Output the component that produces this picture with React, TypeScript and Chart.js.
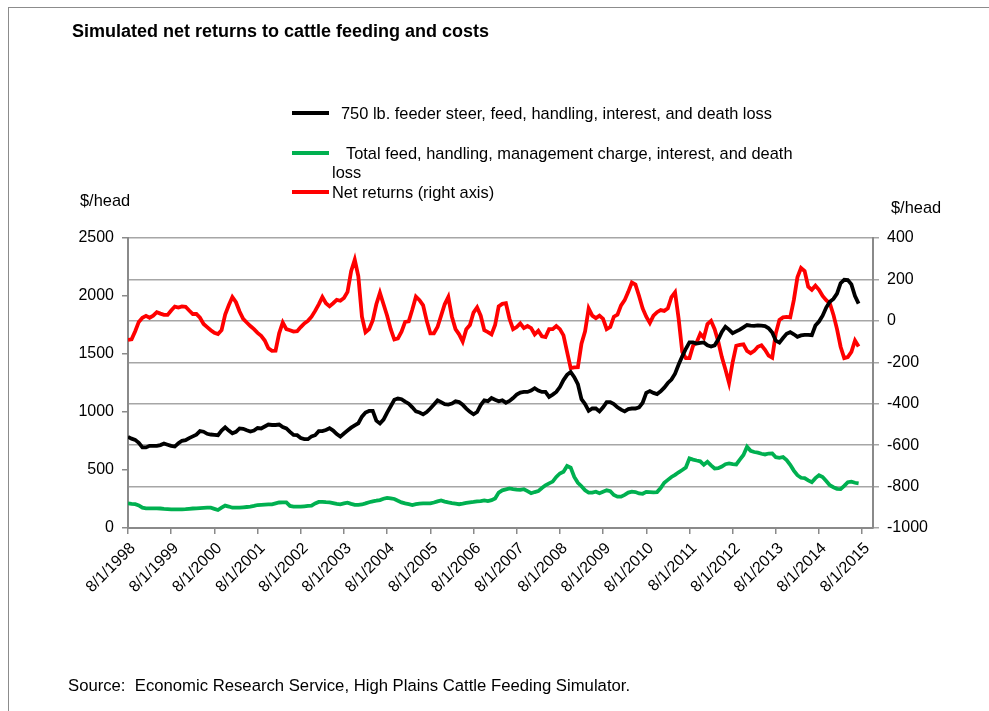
import React, { useEffect, useRef } from "react";
import { Chart, registerables } from "chart.js";

Chart.register(...registerables);

// x-axis tick labels (one per year, every 12 months from 8/1/1998)
const YEAR_LABELS = [
  "8/1/1998", "8/1/1999", "8/1/2000", "8/1/2001", "8/1/2002", "8/1/2003",
  "8/1/2004", "8/1/2005", "8/1/2006", "8/1/2007", "8/1/2008", "8/1/2009",
  "8/1/2010", "8/1/2011", "8/1/2012", "8/1/2013", "8/1/2014", "8/1/2015",
];

// Monthly values, Aug 1998 onwards (index = months since 8/1/1998)
const FEEDER_STEER_COST = [
  786, 770, 760, 735, 695, 695, 708, 708, 708, 715, 728, 718,
  708, 702, 730, 752, 757, 775, 790, 805, 835, 830, 812, 806,
  803, 800, 840, 868, 840, 816, 829, 858, 855, 842, 832, 840,
  862, 858, 875, 892, 888, 888, 892, 870, 858, 828, 802, 800,
  775, 766, 766, 790, 800, 835, 835, 845, 860, 840, 810, 788,
  815, 840, 865, 885, 903, 960, 995, 1009, 1009, 925, 901, 935,
  995, 1050, 1105, 1116, 1110, 1090, 1072, 1040, 1005, 996, 980, 1000,
  1030, 1065, 1100, 1085, 1068, 1064, 1073, 1092, 1085, 1062, 1030, 1001,
  980, 1000, 1060, 1100, 1093, 1120, 1105, 1092, 1100, 1080, 1095, 1120,
  1150, 1168, 1173, 1173, 1185, 1205, 1185, 1173, 1173, 1130, 1150, 1173,
  1215, 1275, 1320, 1345, 1300, 1240, 1110, 1068, 1010, 1030, 1030, 1005,
  1040, 1085, 1085, 1068, 1040, 1020, 1005, 1025, 1030, 1030, 1040, 1080,
  1165, 1180, 1165, 1155, 1178, 1210, 1250, 1280, 1330, 1410, 1480, 1545,
  1600, 1600, 1590, 1595, 1600, 1575, 1565, 1575, 1625, 1690, 1735, 1710,
  1680, 1695, 1710, 1730, 1750, 1745, 1742, 1746, 1745, 1740, 1722, 1685,
  1615, 1598, 1638, 1675, 1688, 1670, 1648, 1660, 1665, 1665, 1662, 1745,
  1780, 1830, 1900, 1950, 1975, 2020, 2110, 2140, 2137, 2100, 2000, 1934,
];

const FEED_COST = [
  212, 208, 205, 195, 175, 170, 170, 170, 170, 168, 165, 163,
  161, 161, 161, 161, 162, 165, 168, 170, 172, 174, 175, 175,
  165, 155, 175, 193, 185, 175, 175, 175, 178, 181, 184, 190,
  198, 200, 202, 203, 204, 212, 220, 221, 221, 190, 184, 184,
  184, 187, 190, 193, 212, 225, 226, 223, 221, 215, 208, 204,
  212, 218, 208, 199, 200, 203, 212, 222, 230, 235, 241, 252,
  260, 256, 250, 235, 221, 212, 205, 198, 205, 210, 212, 212,
  212, 220, 230, 238, 228, 221, 215, 210, 205, 210, 216, 221,
  225, 230, 232, 238, 232, 240, 255, 305, 325, 333, 341, 335,
  330, 328, 334, 318, 300, 310, 318, 345, 368, 385, 400, 440,
  470, 485, 535, 520, 440, 390, 360, 325, 305, 305, 313, 300,
  313, 325, 318, 285, 270, 270, 285, 305, 313, 310, 298, 295,
  312, 310, 308, 310, 345, 390, 415, 440, 458, 480, 500, 522,
  600, 590, 582, 575, 545, 570, 540, 513, 516, 530, 550, 556,
  550, 548, 590, 630, 700, 665, 655, 650, 640, 634, 642, 643,
  610, 605, 612, 585, 545, 495, 455, 433, 430, 410, 395, 430,
  455, 440, 405, 368, 352, 338, 335, 364, 395, 400, 390, 385,
];

const NET_RETURNS = [
  -92, -89, -50, -5, 15, 24, 15, 25, 42, 35, 29, 29,
  50, 69, 64, 70, 68, 50, 33, 33, 15, -15, -30, -45,
  -58, -64, -45, 30, 75, 115, 90, 45, 10, -8, -25, -40,
  -58, -72, -95, -132, -145, -144, -60, -8, -40, -45, -52, -50,
  -30, -12, 0, 20, 48, 80, 115, 85, 70, 85, 101, 97,
  110, 140, 240, 295, 215, 20, -55, -40, 2, 80, 135, 80,
  25, -40, -90, -85, -52, -5, -2, 55, 117, 100, 75, 0,
  -60, -60, -30, 25, 80, 115, 20, -40, -65, -100, -40, -20,
  40, 65, 25, -45, -54, -65, -20, 70, 82, 85, 10, -40,
  -30, -12, -35, -25, -35, -65, -48, -75, -78, -40, -40, -25,
  -40, -70, -150, -228, -225, -224, -110, -50, 60, 25, 13, 25,
  10, -40, -30, 20, 30, 75, 100, 140, 185, 175, 120, 60,
  20, -10, 25, 42, 52, 48, 60, 115, 138, 10, -150, -180,
  -180, -120, -104, -62, -82, -15, 0, -40, -100, -175, -235, -300,
  -200, -120, -116, -113, -145, -156, -145, -125, -118, -140, -168, -178,
  -60, 5, 17, 19, 17, 100, 210, 255, 240, 165, 150, 170,
  150, 120, 100, 85, 30, -40, -125, -180, -175, -150, -95, -124,
];

const LEFT_TICKS = [0, 500, 1000, 1500, 2000, 2500];
const RIGHT_TICKS = [-1000, -800, -600, -400, -200, 0, 200, 400];

const X_MAX_MONTH = 207;
const FONT = '"Liberation Sans", Arial, sans-serif';
const AXIS_GRAY = "#8a8a8a";
const GRID_GRAY = "#a6a6a6";

export default function App() {
  const ref = useRef<HTMLCanvasElement | null>(null);

  useEffect(() => {
    if (!ref.current) return;
    const toXY = (arr: number[]) => arr.map((v, i) => ({ x: i, y: v }));
    const tickFont = { family: FONT, size: 16 };
    const chart = new Chart(ref.current, {
      type: "line",
      data: {
        datasets: [
          {
            label: "750 lb. feeder steer",
            data: toXY(FEEDER_STEER_COST),
            borderColor: "#000000",
            borderWidth: 3.8,
            pointRadius: 0,
            yAxisID: "y",
            tension: 0,
          },
          {
            label: "Total feed",
            data: toXY(FEED_COST),
            borderColor: "#00b050",
            borderWidth: 3.8,
            pointRadius: 0,
            yAxisID: "y",
            tension: 0,
          },
          {
            label: "Net returns",
            data: toXY(NET_RETURNS),
            borderColor: "#ff0000",
            borderWidth: 3.8,
            pointRadius: 0,
            yAxisID: "y1",
            tension: 0,
          },
        ],
      },
      options: {
        animation: false,
        responsive: false,
        maintainAspectRatio: false,
        events: [],
        layout: { padding: { left: 0, top: 238, right: 56, bottom: 83 } },
        plugins: { legend: { display: false }, tooltip: { enabled: false } },
        scales: {
          x: {
            type: "linear",
            min: 0,
            max: X_MAX_MONTH,
            afterBuildTicks: (scale: any) => {
              scale.ticks = YEAR_LABELS.map((_, i) => ({ value: i * 12 }));
            },
            afterFit: (scale: any) => {
              scale.height = 100;
            },
            ticks: {
              autoSkip: false,
              maxRotation: 45,
              minRotation: 45,
              padding: 5,
              labelOffset: 5,
              color: "#000",
              font: tickFont,
              callback: (v: any) => YEAR_LABELS[Math.round(Number(v) / 12)],
            },
            grid: {
              drawOnChartArea: false,
              drawTicks: true,
              tickLength: 6,
              color: AXIS_GRAY,
              lineWidth: 1.5,
            },
            border: { display: true, color: AXIS_GRAY, width: 2 },
          },
          y: {
            position: "left",
            min: 0,
            max: 2500,
            afterBuildTicks: (scale: any) => {
              scale.ticks = LEFT_TICKS.map((v) => ({ value: v }));
            },
            afterFit: (scale: any) => {
              scale.width = 128;
            },
            ticks: {
              color: "#000",
              font: tickFont,
              padding: 8,
              callback: (v: any) => String(v),
            },
            grid: {
              drawOnChartArea: false,
              drawTicks: true,
              tickLength: 6,
              color: AXIS_GRAY,
              lineWidth: 1.5,
            },
            border: { display: true, color: AXIS_GRAY, width: 2 },
          },
          y1: {
            position: "right",
            min: -1000,
            max: 400,
            afterBuildTicks: (scale: any) => {
              scale.ticks = RIGHT_TICKS.map((v) => ({ value: v }));
            },
            afterFit: (scale: any) => {
              scale.width = 60;
            },
            ticks: {
              color: "#000",
              font: tickFont,
              padding: 8,
              callback: (v: any) => String(v),
            },
            grid: {
              drawOnChartArea: true,
              drawTicks: true,
              tickLength: 6,
              color: GRID_GRAY,
              lineWidth: 1.5,
            },
            border: { display: true, color: AXIS_GRAY, width: 2 },
          },
        },
      },
    });
    return () => chart.destroy();
  }, []);

  const text = (
    left: number,
    top: number,
    size: number,
    bold = false
  ): React.CSSProperties => ({
    position: "absolute",
    left,
    top,
    fontFamily: FONT,
    fontSize: size,
    lineHeight: 1,
    fontWeight: bold ? "bold" : "normal",
    whiteSpace: "pre",
    color: "#000",
  });

  const legendLine = (color: string, top: number): React.CSSProperties => ({
    position: "absolute",
    left: 292,
    top: top - 2,
    width: 37,
    height: 4,
    background: color,
  });

  return (
    <div
      style={{
        position: "absolute",
        left: 0,
        top: 0,
        width: 989,
        height: 711,
        overflow: "hidden",
        background: "#fff",
      }}
    >
      <div
        style={{
          position: "absolute",
          left: 8,
          top: 7,
          width: 1000,
          height: 720,
          borderLeft: "1.5px solid #8c8c8c",
          borderTop: "1.5px solid #8c8c8c",
        }}
      />
      <canvas
        ref={ref}
        width={989}
        height={711}
        style={{ position: "absolute", left: 0, top: 0, width: 989, height: 711 }}
      />
      <div style={text(72, 22, 18, true)}>
        Simulated net returns to cattle feeding and costs
      </div>
      <div style={legendLine("#000000", 113)} />
      <div style={text(341, 105, 16.4)}>
        750 lb. feeder steer, feed, handling, interest, and death loss
      </div>
      <div style={legendLine("#00b050", 153)} />
      <div style={text(346, 145, 16.4)}>
        Total feed, handling, management charge, interest, and death
      </div>
      <div style={text(332, 163.5, 16.4)}>loss</div>
      <div style={legendLine("#ff0000", 192)} />
      <div style={text(332, 184, 16.4)}>Net returns (right axis)</div>
      <div style={text(80, 192, 16.4)}>$/head</div>
      <div style={text(891, 198.5, 16.4)}>$/head</div>
      <div style={text(68, 677.5, 16.7)}>
        Source:  Economic Research Service, High Plains Cattle Feeding Simulator.
      </div>
    </div>
  );
}
